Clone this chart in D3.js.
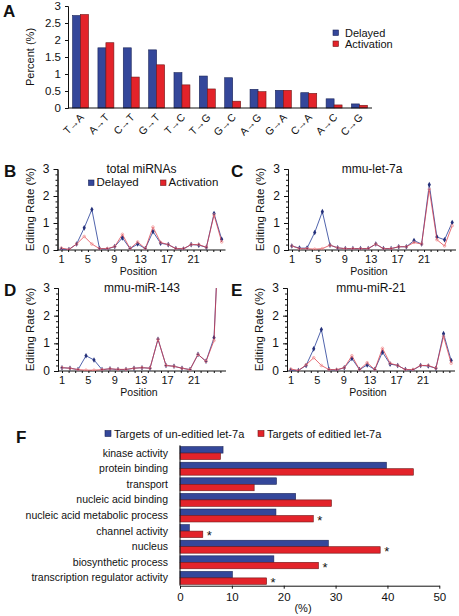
<!DOCTYPE html>
<html><head><meta charset="utf-8">
<script src="https://cdn.jsdelivr.net/npm/d3@7"></script>
<style>
body{margin:0;background:#fff}
svg{display:block}
text{font-family:"Liberation Sans",Arial,sans-serif;fill:#111}
</style>
</head><body>
<svg id="c" width="459" height="616"></svg>
<script>
// ---------- DATA ----------
const substitutions = ["T→A","A→T","C→T","G→T","T→C","T→G","G→C","A→G","G→A","C→A","A→C","C→G"];
const subDelayed    = [2.72,1.77,1.77,1.71,1.04,0.94,0.89,0.55,0.52,0.45,0.27,0.12];
const subActivation = [2.75,1.92,0.91,1.27,0.68,0.56,0.20,0.48,0.52,0.43,0.09,0.08];
const seriesNames = ["Delayed","Activation"];
const percentTicks = [0,0.5,1,1.5,2,2.5,3];

const totalDelayed    = [0.03,0.02,0.22,0.82,1.50,0.05,0.03,0.13,0.45,0.05,0.22,0.05,0.68,0.25,0.20,0.05,0.04,0.20,0.18,0.10,1.35,0.40];
const totalActivation = [0.07,0.02,0.22,0.50,0.22,0.05,0.05,0.13,0.58,0.05,0.30,0.05,0.85,0.28,0.20,0.05,0.05,0.20,0.20,0.10,1.30,0.30];

const let7aDelayed    = [0.15,0.07,0.07,0.65,1.42,0.18,0.08,0.05,0.05,0.05,0.05,0.22,0.05,0.05,0.12,0.12,0.35,0.22,2.42,0.48,0.38,1.02];
const let7aActivation = [0.15,0.05,0.05,0.03,0.05,0.18,0.08,0.05,0.05,0.05,0.05,0.22,0.05,0.05,0.12,0.12,0.28,0.22,2.25,0.38,0.15,0.90];

const mir143Delayed    = [0.12,0.10,0.05,0.55,0.40,0.05,0.08,0.05,0.05,0.10,0.12,0.10,1.15,0.20,0.17,0.10,0.05,0.60,0.35,1.20,7.5];
const mir143Activation = [0.12,0.10,0.05,0.03,0.03,0.05,0.08,0.06,0.06,0.10,0.12,0.10,1.15,0.20,0.17,0.10,0.05,0.60,0.35,1.10,7.6];

const mir21Delayed    = [0.03,0.02,0.20,0.80,1.50,0.05,0.03,0.12,0.45,0.05,0.22,0.05,0.68,0.25,0.20,0.05,0.03,0.20,0.18,0.10,1.35,0.38];
const mir21Activation = [0.07,0.02,0.22,0.48,0.20,0.05,0.05,0.12,0.55,0.05,0.30,0.05,0.82,0.28,0.20,0.05,0.05,0.20,0.20,0.10,1.25,0.28];

const positionTicks = [1,5,9,13,17,21];
const rateTicks = [0,1,2,3];

const goTerms = ["kinase activity","protein binding","transport","nucleic acid binding","nucleic acid metabolic process","channel activity","nucleus","biosynthetic process","transcription regulator activity"];
const goUnedited = [8.3,39.8,18.6,22.3,18.5,1.8,28.6,18.1,10.1];
const goEdited   = [7.8,45.0,14.3,29.2,25.7,4.4,38.6,26.7,16.7];
const goSignificant = [false,false,false,false,true,true,true,true,true];
const goLegend = ["Targets of un-editied let-7a","Targets of editied let-7a"];
const goTicks = [0,10,20,30,40,50];

// ---------- STYLE ----------
const BLUE="#34479a", RED="#e3232a", BLUE_S="#1a2458", RED_S="#6e1616";
const LBLUE="#3c52a3", LRED="#dc3440";
const svg = d3.select("#c");

function letter(t,x,y){
  svg.append("text").attr("x",x).attr("y",y).attr("font-size",17).attr("font-weight","bold").text(t);
}
function styleAxis(g,fs){
  g.attr("font-family",null).attr("font-size",fs);
  g.selectAll("path.domain").attr("stroke","#111");
  g.selectAll(".tick line").attr("stroke","#111");
  g.selectAll(".tick text").attr("fill","#111");
}

// ---------- PANEL A ----------
(function(){
  const left=68,right=372,bottom=108,top=6;
  const x0=d3.scaleBand().domain(substitutions).range([left,right]).paddingInner(0.37).paddingOuter(0.18);
  const x1=d3.scaleBand().domain(seriesNames).range([0,x0.bandwidth()]);
  const y=d3.scaleLinear().domain([0,3]).range([bottom,top]);
  const g=svg.append("g");
  const grp=g.selectAll("g.grp").data(substitutions).join("g").attr("transform",d=>`translate(${x0(d)},0)`);
  grp.selectAll("rect").data((d,i)=>[{s:"Delayed",v:subDelayed[i]},{s:"Activation",v:subActivation[i]}]).join("rect")
    .attr("x",d=>x1(d.s)).attr("width",x1.bandwidth()).attr("y",d=>y(d.v)).attr("height",d=>y(0)-y(d.v))
    .attr("fill",d=>d.s==="Delayed"?BLUE:RED).attr("stroke",d=>d.s==="Delayed"?BLUE_S:RED_S).attr("stroke-width",0.6);
  const ya=g.append("g").attr("transform",`translate(${left},0)`)
    .call(d3.axisLeft(y).tickValues(percentTicks).tickSize(3).tickPadding(4).tickFormat(d=>d));
  styleAxis(ya,11.5);
  g.append("line").attr("x1",left).attr("x2",right).attr("y1",bottom).attr("y2",bottom).attr("stroke","#111");
  g.selectAll("text.xl").data(substitutions).join("text").attr("class","xl")
    .attr("transform",d=>`translate(${x0(d)+x0.bandwidth()/2+4},${118}) rotate(-45)`)
    .attr("text-anchor","end").attr("font-size",10.5).text(d=>d);
  g.append("text").attr("transform",`translate(34,${(top+bottom)/2}) rotate(-90)`).attr("text-anchor","middle")
    .attr("font-size",11).text("Percent (%)");
  const lg=g.append("g");
  seriesNames.forEach((s,i)=>{
    lg.append("rect").attr("x",333).attr("y",30+i*11).attr("width",5.5).attr("height",5.5)
      .attr("fill",i?RED:BLUE).attr("stroke",i?RED_S:BLUE_S).attr("stroke-width",0.6);
    lg.append("text").attr("x",345).attr("y",37+i*11).attr("font-size",11).text(s);
  });
  letter("A",3,17);
})();

// ---------- LINE PANELS ----------
function linePanel(o){
  const {ax,right,y0,y3,blue,red,title,lt,lx,legend}=o;
  const n=blue.length;
  const positions=d3.range(1,n+1);
  const x=d3.scalePoint().domain(positions).range([ax,right]).padding(0.5);
  const y=d3.scaleLinear().domain([0,3]).range([y0,y3]);
  const xl=d3.scaleLinear().domain([1,21]).range([ax+4,ax+136]);
  const g=svg.append("g");
  const cid="clip"+lt;
  g.append("clipPath").attr("id",cid).append("rect").attr("x",ax).attr("y",y3).attr("width",right-ax+4).attr("height",y0-y3);
  const ym=g.append("g").attr("transform",`translate(${ax},0)`)
    .call(d3.axisLeft(y).tickValues(d3.range(0,3.01,0.2)).tickSize(2).tickFormat(()=>""));
  styleAxis(ym,11);
  const ya=g.append("g").attr("transform",`translate(${ax},0)`)
    .call(d3.axisLeft(y).tickValues(rateTicks).tickSize(4).tickSizeOuter(0).tickFormat(()=>""));
  styleAxis(ya,12);
  g.selectAll("text.yt").data(rateTicks).join("text").attr("class","yt")
    .attr("x",ax-8).attr("y",d=>y(d)+4).attr("text-anchor","end").attr("font-size",12).text(d=>d);
  g.append("line").attr("x1",ax).attr("x2",right).attr("y1",y0).attr("y2",y0).attr("stroke","#111");
  const xa=g.append("g").attr("transform",`translate(0,${y0})`)
    .call(d3.axisBottom(xl).tickValues(d3.range(1,26)).tickSize(2).tickFormat(()=>""));
  xa.select("path.domain").remove(); styleAxis(xa,11);
  g.selectAll("text.pt").data(positionTicks).join("text").attr("class","pt")
    .attr("x",d=>xl(d)).attr("y",y0+12.5).attr("text-anchor","middle").attr("font-size",11).text(d=>d);
  g.append("text").attr("x",ax+81).attr("y",y0+24.5).attr("text-anchor","middle").attr("font-size",10.5).text("Position");
  g.append("text").attr("transform",`translate(${ax-24},${(y0+y3)/2}) rotate(-90)`).attr("text-anchor","middle")
    .attr("font-size",11.5).text("Editing Rate (%)");
  g.append("text").attr("x",ax+84).attr("y",y3+4).attr("text-anchor","middle").attr("font-size",12).text(title);
  const line=d3.line().x((d,i)=>x(i+1)).y(d=>y(d));
  const pl=g.append("g").attr("clip-path",`url(#${cid})`);
  pl.append("path").datum(blue).attr("d",line).attr("fill","none").attr("stroke",LBLUE).attr("stroke-width",0.9);
  pl.selectAll("path.bm").data(blue).join("path").attr("class","bm")
    .attr("transform",(d,i)=>`translate(${x(i+1)},${y(d)})`).attr("d",d3.symbol(d3.symbolDiamond,9)).attr("fill","#24307a");
  pl.append("path").datum(red).attr("d",line).attr("fill","none").attr("stroke",LRED).attr("stroke-width",0.9).attr("stroke-opacity",0.8);
  pl.selectAll("circle.rm").data(red).join("circle").attr("class","rm")
    .attr("cx",(d,i)=>x(i+1)).attr("cy",d=>y(d)).attr("r",1.3).attr("fill","none").attr("stroke","#f08a8a").attr("stroke-width",0.7);
  if(legend){
    seriesNames.forEach((s,i)=>{
      const lx0=ax+31+i*72;
      g.append("rect").attr("x",lx0).attr("y",y3+11).attr("width",5.5).attr("height",5.5)
        .attr("fill",i?RED:BLUE).attr("stroke",i?RED_S:BLUE_S).attr("stroke-width",0.6);
      g.append("text").attr("x",lx0+8).attr("y",y3+17).attr("font-size",11.5).text(s);
    });
  }
  letter(lt,lx,y3+8);
}
linePanel({ax:57.5,right:225.5,y0:250,y3:169,blue:totalDelayed,red:totalActivation,title:"total miRNAs",lt:"B",lx:4,legend:true});
linePanel({ax:288,right:456,y0:250,y3:169,blue:let7aDelayed,red:let7aActivation,title:"mmu-let-7a",lt:"C",lx:231});
linePanel({ax:58,right:226,y0:371,y3:288,blue:mir143Delayed,red:mir143Activation,title:"mmu-miR-143",lt:"D",lx:4});
linePanel({ax:287,right:455,y0:371,y3:288,blue:mir21Delayed,red:mir21Activation,title:"mmu-miR-21",lt:"E",lx:231});

// ---------- PANEL F ----------
(function(){
  const left=180,top=445.3,bottom=585.7;
  const xf=d3.scaleLinear().domain([0,50]).range([left,439.3]);
  const yb=d3.scaleBand().domain(goTerms).range([top,bottom]).paddingInner(0.17).paddingOuter(0.085);
  const ys=d3.scaleBand().domain([0,1]).range([0,yb.bandwidth()]);
  const g=svg.append("g");
  const rows=g.selectAll("g.row").data(goTerms).join("g").attr("transform",d=>`translate(0,${yb(d)})`);
  rows.selectAll("rect").data((d,i)=>[goUnedited[i],goEdited[i]]).join("rect")
    .attr("x",left).attr("y",(d,j)=>ys(j)).attr("height",ys.bandwidth()).attr("width",d=>xf(d)-left)
    .attr("fill",(d,j)=>j?RED:BLUE).attr("stroke",(d,j)=>j?RED_S:BLUE_S).attr("stroke-width",0.6);
  g.selectAll("text.lab").data(goTerms).join("text").attr("class","lab")
    .attr("x",left-12).attr("y",d=>yb(d)+yb.bandwidth()/2+3.5).attr("text-anchor","end").attr("font-size",10.5).text(d=>d);
  g.selectAll("text.star").data(goTerms.filter((d,i)=>goSignificant[i])).join("text").attr("class","star")
    .attr("x",d=>xf(goEdited[goTerms.indexOf(d)])+4).attr("y",d=>yb(d)+ys(1)+ys.bandwidth()/2+6)
    .attr("font-size",13).text("*");
  g.append("line").attr("x1",left).attr("x2",left).attr("y1",top).attr("y2",bottom).attr("stroke","#111");
  const xa=g.append("g").attr("transform",`translate(0,${bottom})`)
    .call(d3.axisBottom(xf).tickValues(goTicks).tickSize(3).tickPadding(4).tickSizeOuter(0));
  styleAxis(xa,11.5);
  g.append("text").attr("x",303).attr("y",612).attr("text-anchor","middle").attr("font-size",11).text("(%)");
  const lpos=[105,258];
  goLegend.forEach((s,i)=>{
    g.append("rect").attr("x",lpos[i]).attr("y",430.5).attr("width",6).attr("height",6)
      .attr("fill",i?RED:BLUE).attr("stroke",i?RED_S:BLUE_S).attr("stroke-width",0.6);
    g.append("text").attr("x",lpos[i]+9).attr("y",437.5).attr("font-size",11).text(s);
  });
  letter("F",16,443);
})();
</script>
</body></html>
